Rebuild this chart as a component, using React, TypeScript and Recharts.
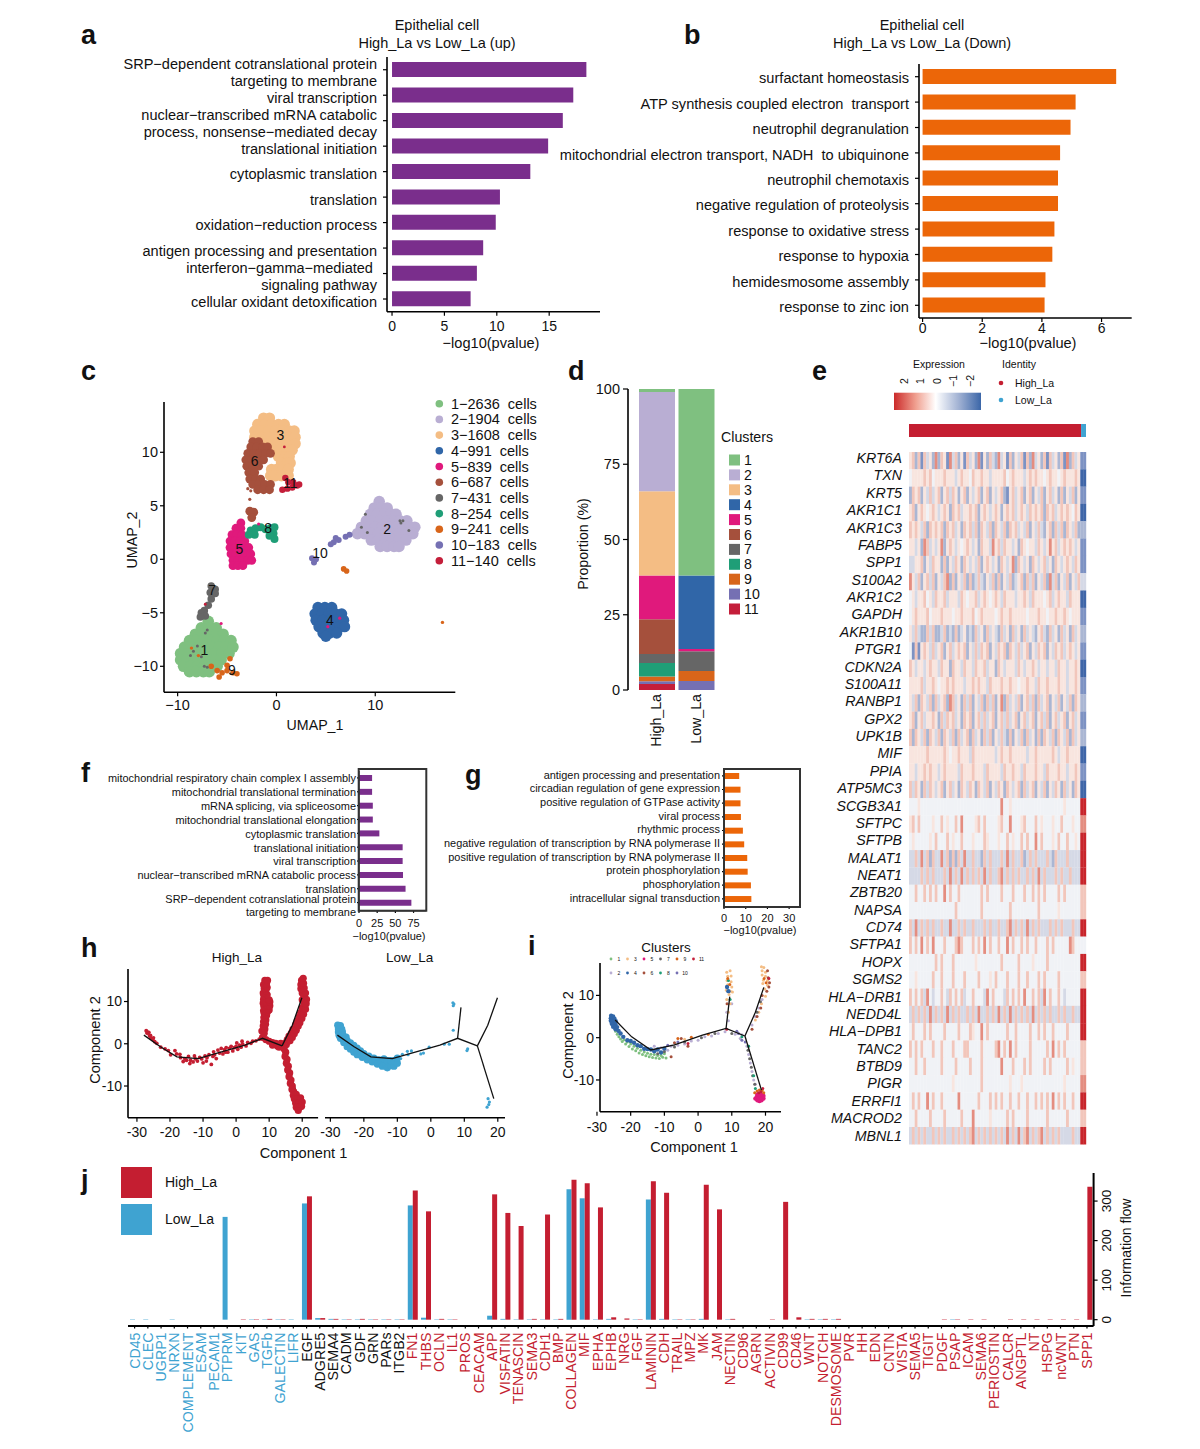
import React from "react";
import { BarChart, Bar, XAxis, YAxis, ScatterChart, Scatter } from "recharts";

const FONT = '"Liberation Sans", Arial, sans-serif';
const PURPLE = "#7a2e8c";
const ORANGE = "#ec6608";
const RED = "#c41e31";
const BLUE = "#3fa3d1";

// ---------- panel a / b ----------
const upTerms = ["SRP−dependent cotranslational protein\ntargeting to membrane", "viral transcription", "nuclear−transcribed mRNA catabolic\nprocess, nonsense−mediated decay", "translational initiation", "cytoplasmic translation", "translation", "oxidation−reduction process", "antigen processing and presentation", "interferon−gamma−mediated \nsignaling pathway", "cellular oxidant detoxification"];
const upValues = [18.55, 17.3, 16.3, 14.9, 13.2, 10.3, 9.9, 8.7, 8.1, 7.5];
const downTerms = ["surfactant homeostasis", "ATP synthesis coupled electron  transport", "neutrophil degranulation", "mitochondrial electron transport, NADH  to ubiquinone", "neutrophil chemotaxis", "negative regulation of proteolysis", "response to oxidative stress", "response to hypoxia", "hemidesmosome assembly", "response to zinc ion"];
const downValues = [6.49, 5.13, 4.96, 4.61, 4.54, 4.54, 4.42, 4.35, 4.12, 4.09];

// ---------- panel f / g ----------
const fTerms = ["mitochondrial respiratory chain complex I assembly", "mitochondrial translational termination", "mRNA splicing, via spliceosome", "mitochondrial translational elongation", "cytoplasmic translation", "translational initiation", "viral transcription", "nuclear−transcribed mRNA catabolic process", "translation", "SRP−dependent cotranslational protein\ntargeting to membrane"];
const fValues = [18, 18, 19, 19, 28, 60, 60, 60.5, 64, 72];
const gTerms = ["antigen processing and presentation", "circadian regulation of gene expression", "positive regulation of GTPase activity", "viral process", "rhythmic process", "negative regulation of transcription by RNA polymerase II", "positive regulation of transcription by RNA polymerase II", "protein phosphorylation", "phosphorylation", "intracellular signal transduction"];
const gValues = [7, 7.6, 7.6, 7.8, 8.7, 9.3, 10.7, 10.9, 12.4, 12.6];

// ---------- panel c ----------
const clusterIds = ["1", "2", "3", "4", "5", "6", "7", "8", "9", "10", "11"];
const clusterCounts = ["1−2636  cells", "2−1904  cells", "3−1608  cells", "4−991  cells", "5−839  cells", "6−687  cells", "7−431  cells", "8−254  cells", "9−241  cells", "10−183  cells", "11−140  cells"];
const clusterColors = ["#7fc080", "#b9aed3", "#f4bd84", "#3066a8", "#e0197c", "#a5503c", "#666666", "#1f9e77", "#d8651a", "#7570b3", "#c41e3a"];

const umap1 = [[-6.9,-5.8],[-7.6,-6.4],[-6.8,-6.4],[-6.1,-6.4],[-8.2,-7],[-7.5,-7],[-6.8,-7],[-6.1,-7],[-5.4,-7],[-8.8,-7.6],[-8.1,-7.6],[-7.4,-7.6],[-6.7,-7.6],[-6,-7.6],[-5.3,-7.6],[-4.6,-7.6],[-9.3,-8.2],[-8.6,-8.2],[-7.9,-8.2],[-7.2,-8.2],[-6.5,-8.2],[-5.8,-8.2],[-5.1,-8.2],[-4.4,-8.2],[-9.7,-8.8],[-9,-8.8],[-8.3,-8.8],[-7.6,-8.8],[-6.9,-8.8],[-6.2,-8.8],[-5.5,-8.8],[-4.8,-8.8],[-9.7,-9.4],[-9,-9.4],[-8.3,-9.4],[-7.6,-9.4],[-6.9,-9.4],[-6.2,-9.4],[-5.6,-9.4],[-9.4,-10],[-8.7,-10],[-8,-10],[-7.3,-10],[-6.6,-10],[-6,-10],[-8.8,-10.5],[-8.1,-10.5],[-7.4,-10.5],[-6.8,-10.5]];
const umap2 = [[10.4,5.4],[9.9,4.8],[10.6,4.8],[11.2,4.8],[9.5,4.2],[10.2,4.2],[10.9,4.2],[11.6,4.2],[12.1,4.2],[9.1,3.6],[9.8,3.6],[10.5,3.6],[11.2,3.6],[11.9,3.6],[12.5,3.6],[13.2,3.6],[8.6,3],[9.3,3],[10,3],[10.7,3],[11.4,3],[12.1,3],[12.8,3],[13.5,3],[14,3],[8.2,2.4],[8.9,2.4],[9.6,2.4],[10.3,2.4],[11,2.4],[11.7,2.4],[12.4,2.4],[13.1,2.4],[13.8,2.4],[9.6,1.8],[10.3,1.8],[11,1.8],[11.7,1.8],[12.4,1.8],[13.1,1.8],[10.5,1.2],[11.2,1.2],[11.9,1.2],[12.4,1.2]];
const umap3 = [[-1.3,13.2],[-0.7,13.2],[-1.9,12.6],[-1.2,12.6],[-0.5,12.6],[0.2,12.6],[0.8,12.6],[-2.2,12],[-1.5,12],[-0.8,12],[-0.1,12],[0.6,12],[1.3,12],[1.8,12],[-2.2,11.4],[-1.5,11.4],[-0.8,11.4],[-0.1,11.4],[0.6,11.4],[1.3,11.4],[1.9,11.4],[-0.9,10.8],[-0.2,10.8],[0.5,10.8],[1.2,10.8],[1.9,10.8],[-0.3,10.2],[0.4,10.2],[1.1,10.2],[1.6,10.2],[0.2,9.6],[0.9,9.6],[1.3,9.6],[0.5,9],[1.1,9],[1.4,9],[-0.5,8.4],[0,8.4],[0.6,8.4],[1.2,8.4],[-0.6,7.8],[-0.1,7.8],[0.5,7.8],[1.2,7.8]];
const umap4 = [[4.2,-4.5],[4.9,-4.5],[5.6,-4.5],[3.9,-5.1],[4.6,-5.1],[5.3,-5.1],[6,-5.1],[6.6,-5.1],[4,-5.7],[4.7,-5.7],[5.4,-5.7],[6.1,-5.7],[6.8,-5.7],[4.3,-6.3],[5,-6.3],[5.7,-6.3],[6.4,-6.3],[6.9,-6.3],[4.7,-6.9],[5.4,-6.9],[6.1,-6.9],[5,-7.2]];
const umap5 = [[-3.6,3.4],[-4.1,2.9],[-3.6,2.9],[-4.5,2.3],[-4,2.3],[-3.5,2.3],[-4.7,1.7],[-4.2,1.7],[-3.7,1.7],[-3.2,1.7],[-4.7,1.1],[-4.2,1.1],[-3.7,1.1],[-3.2,1.1],[-2.8,1.1],[-4.6,0.5],[-4.1,0.5],[-3.6,0.5],[-3.1,0.5],[-2.6,0.5],[-4.4,-0.1],[-3.9,-0.1],[-3.4,-0.1],[-2.9,-0.1],[-2.5,-0.1],[-4.4,-0.6],[-3.9,-0.6],[-3.4,-0.6]];
const umap6 = [[-2.4,11],[-1.8,11],[-2.6,10.5],[-2,10.5],[-1.4,10.5],[-0.9,10.5],[-2.9,9.9],[-2.3,9.9],[-1.7,9.9],[-1.1,9.9],[-0.6,9.9],[-3.1,9.3],[-2.5,9.3],[-1.9,9.3],[-1.3,9.3],[-3,8.7],[-2.4,8.7],[-1.8,8.7],[-2.8,8.1],[-2.2,8.1],[-2.7,7.5],[-2.1,7.5],[-1.6,7.5],[-2.4,7],[-1.8,7],[-1.2,7],[-0.6,7],[-1.9,6.5],[-1.3,6.5],[-0.7,6.5],[-2.7,4.5],[-2.3,4.4],[-2.5,3.9]];
const umap7 = [[-6.6,-2.5],[-6.2,-2.8],[-6.7,-3.1],[-6.2,-3.2],[-6.6,-3.7],[-6.9,-4.3],[-7.3,-4.8],[-7.6,-5],[-7.2,-5.3],[-7.7,-5.4]];
const umap8 = [[-2.6,2.7],[-2.1,2.9],[-1.6,3],[-1.1,2.8],[-0.6,2.9],[-0.2,3],[-0.3,2.4],[-0.2,1.9],[-0.7,2.2],[-2.2,2.3],[-2.8,2.3]];
const umap9 = [[-5.8,-11],[-5.5,-10.6],[-6,-10.4],[-5,-10.4],[-5,-9.9],[-4.7,-9.3],[-4,-10.7],[-4.4,-10.6],[-6.6,-10],[6.8,-0.9],[7.1,-1.1]];
const umap10 = [[3.6,0.1],[4,0],[3.8,-0.3],[6,2],[5.8,1.6],[6.3,1.8],[7,2.1],[7.4,2.3],[5.5,1.4]];
const umap11 = [[0.6,6.5],[1.1,6.6],[1.6,6.7],[2.1,6.9],[2.3,7],[1.2,7.2],[1.7,7.2],[0.9,7.6]];
const umapClusters = [umap1, umap2, umap3, umap4, umap5, umap6, umap7, umap8, umap9, umap10, umap11];
const umapSizes = [5.8, 5.8, 5.6, 5.6, 4.4, 4.4, 3.8, 4, 2.8, 3, 3.2];

const strayGrey = [[-8,-8.1],[-8.4,-8.6],[-8.7,-9],[-7.6,-9.1],[-7.2,-6.9],[-7,-6.6],[-7.3,-10],[-7,-10.1],[12.5,3.6],[12.8,3.6],[12.6,3.4],[9,4.2],[8.6,3],[9.2,2.5],[13.4,2.7]];
const strayOrange = [[16.8,-5.9],[-8.6,-8.3],[-7.9,-9]];
const strayPink = [[5.2,-6.3],[6.4,-5.5],[-5.6,-6],[-1.8,3.3]];
const strayRed = [[0.8,10.5],[-7.2,-4.2]];
const strayBrown = [[-2.7,5.6],[-2.9,6.6],[-2.6,6.4]];
const umapLabels = [[-7.3,-8.5],[11.2,2.8],[0.4,11.6],[5.4,-5.65],[-3.75,0.94],[-2.2,9.2],[-6.5,-2.9],[-0.85,2.96],[-4.5,-10.3],[4.4,0.56],[1.4,7.1]];

// ---------- panel d ----------
const stackHigh = [1, 33, 28, 0, 14.5, 11.5, 3, 4.5, 1.6, 0.9, 2];
const stackLow = [62, 0, 0, 24.4, 0.7, 0, 6.6, 0, 3.3, 3, 0];
const stackNames = ["High_La", "Low_La"];

// ---------- panel e ----------
const genes = ["KRT6A","TXN","KRT5","AKR1C1","AKR1C3","FABP5","SPP1","S100A2","AKR1C2","GAPDH","AKR1B10","PTGR1","CDKN2A","S100A11","RANBP1","GPX2","UPK1B","MIF","PPIA","ATP5MC3","SCGB3A1","SFTPC","SFTPB","MALAT1","NEAT1","ZBTB20","NAPSA","CD74","SFTPA1","HOPX","SGMS2","HLA−DRB1","NEDD4L","HLA−DPB1","TANC2","BTBD9","PIGR","ERRFI1","MACROD2","MBNL1"];
const exprHigh = [
"5626163527 2651736251 6352715263 2735162536 1627352616 3526172635",
"4555565645 5565553565 5465565535 5556456555 3565655456 5545655565",
"2656253635 6256365256 2535625625 3562156356 2562536256 3526253625",
"5625654565 3565265635 5656256535 6525656356 5365656265 6356565465",
"6565362656 5626563526 5636265362 6536265635 3625363256 2636265362",
"5535276353 5725653545 6535265537 5636553526 5455365357 5635656535",
"3355625365 5262536526 5353625653 5265357265 3526535635 2653565365",
"7536256362 5367262536 2623632536 2625362356 2636253627 3625362536",
"4535564536 5563555365 4556356545 6536555355 6536555456 3565536555",
"4565556455 5655545565 5564565555 4565565555 5455565545 5655654555",
"5363226362 2362326235 2326352635 3263526352 6353256326 3526352635",
"4161565363 5625635656 2536365625 3656265363 5625365625 3656356535",
"6535535655 3655265536 5536556355 2653555365 3556535535 5365535565",
"5555635565 4556565553 5565655365 5565565545 5655365565 5565535565",
"5362653626 3562763526 3625362636 2572635362 5636263562 5362536265",
"5625635565 2636563526 5625636356 2563635625 6356256362 5635625635",
"6265362653 6265362635 6263526362 5363262536 2635262653 6265362635",
"5555556555 5565455655 5365555555 3565565555 5355655555 6535565555",
"5535565655 3565555365 5565553655 5536556553 6555655365 5565535565",
"6365263653 5625635265 3652653625 3652653562 6356253625 3652635265",
"4445444444 4444444444 4444444444 4474454444 4444444444 4444544444",
"5646444454 4645446474 4445646444 4564474445 6444645444 5446444544",
"4544444546 4446454464 4454446544 4544645446 4644746444 5464464454",
"3363736263 3736262637 3363326363 3363736336 2363633363 2633363333",
"3333636363 3363736373 6363637363 3673636363 3636373633 3636336333",
"4464464646 4474644644 4444464644 4464446444 6446464644 4464644444",
"4444444444 4444446444 4444464444 4444464444 4444464444 4454444444",
"6373636363 3633733636 3363336363 3633673636 3736363336 3636333633",
"6464746474 4464446764 4464647464 4644746446 4644644464 6444447644",
"4444444446 4644464444 4445444444 4464444464 4445444464 4444444444",
"4454444464 4644464446 4444644454 6444644464 4644464644 4464444444",
"6464637434 4643646463 4464443746 4443646464 7446463746 4464344444",
"3636363736 3637363633 6363733636 3736373636 3637363636 3363633633",
"4644464644 4464444644 4654474644 4444644644 4464464644 6444464444",
"6464644464 4644464446 6444464444 6746474644 4464444464 7464644444",
"4464464444 4644446444 4644464444 4474446444 6464444646 4444464544",
"4444444444 4444454444 4444464444 4444454445 4444444444 4444544444",
"4646447464 4644444744 4444644464 6464464464 4644646464 7464644644",
"4464444644 4464444464 4474444454 4444646444 4644444464 4444464444",
"3636363363 6363363636 3673636363 6363736373 6736367363 6363333633",
];
const exprLow = [1,0,1,0,2,1,1,3,0,1,2,1,0,1,2,1,2,0,1,0,8,7,8,8,8,6,6,8,4,8,6,8,8,8,6,6,7,8,6,8];
const exprColors = ["#3f66a8","#7d92c3","#aab6d3","#d5d9e6","#f0f2f6","#f8e5df","#f2c6bb","#e48d80","#c8252b"];
const identityShare = [{ name: "Identity", High_La: 97.2, Low_La: 2.8 }];

// ---------- panels h / i ----------
const trunk = [[-27.9,2.05],[-22.9,-0.7],[-17.9,-3.1],[-11.5,-3.5],[-4.4,-1.9],[2.7,-0.3],[8,1.3],[13.9,-0.5]];
const branchUp = [[8,1.3],[9,8.6]];
const branchRight = [[13.9,-0.5],[17,4.4],[19.9,10.9]];
const branchDown = [[13.9,-0.5],[18.8,-13]];
const highArc = [[-27.2,3.1],[-26.9,2.5],[-26.4,2.7],[-26.2,1.9],[-25.8,1.4],[-25.2,1],[-24.6,0.5],[-24,0.1],[-22.8,-0.8],[-21.5,-1.2],[-18.5,-1.6],[-18,-2.4],[-16.8,-3.3],[-15.5,-3.5],[-15,-3.9],[-14.4,-3],[-13.8,-3.9],[-13,-4.3],[-12.3,-3.6],[-11.7,-4.1],[-11,-3.2],[-10.4,-3.6],[-10,-4.5],[-9.4,-2.9],[-8.8,-3.3],[-8.2,-2.6],[-7.5,-4.9],[-7,-3],[-6.5,-2.6],[-6,-3.5],[-5.5,-1.5],[-5,-2.2],[-4.5,-1.1],[-4,-2.4],[-3.5,-1.4],[-3,-0.9],[-2.5,-2],[-2,-1.1],[-1.5,-0.6],[-1,-1.7],[-0.5,-0.9],[0,-0.6],[0.5,-1.3],[1,-0.3],[1.5,-0.8],[2,-0.1],[3,-0.5],[3.5,0.3],[4.5,0.1],[5,0.6],[6,0.7],[7,1.1],[-27,2.9],[-25.9,2],[-25,1.4],[-20.5,-1.6],[-19.8,-2.6],[-17,-2.5],[-16,-4.2],[-14,-4.7],[-12.6,-2.9],[-9,-4.1],[-6.8,-1.9],[-3.2,-2],[0.2,0.2],[1.8,0.6]];
const highBranches = [[8,1.5],[8.5,2.5],[7.8,3],[8.7,3.5],[8.2,4.2],[8.9,4.6],[8.3,5.2],[9,5.6],[8.4,6.2],[9.2,6.7],[8.5,7.2],[9.5,7.6],[8.3,7.8],[9,8.2],[10,8],[8.4,8.8],[9.4,9],[10.2,9],[8.2,9.6],[9.2,9.8],[10.2,9.9],[8.3,10.5],[9.3,10.7],[10,10.4],[8.4,11.4],[9.4,11.6],[8.2,12],[9,12.5],[8.5,13],[9.4,13.3],[8.3,14],[9.2,14.2],[8.7,15],[9.5,15],
[9,1],[10,0.6],[11,0.3],[12,0.1],[11,-0.3],[12.5,-0.5],[13,-0.8],[13.5,0.1],[14,-0.4],
[15,0.2],[15.5,1],[15.2,-0.2],[16,1.8],[16.3,0.7],[16.7,2.5],[17,1.5],[17.2,3.4],[17.6,2.4],[18,4.5],[18.2,3.2],[18.5,5.4],[18.8,4.2],[19,6.4],[19.3,5],[19.5,7.4],[19.9,6],[20,8.5],[20.4,7],[20.5,9.5],[21,8.2],[20,10.4],[21.2,9.5],[20.5,11],[21.3,10.5],[20,12],[21,12],[19.6,13],[20.6,13.2],[19.6,14],[20.4,14.3],[19.8,15],[20.3,15.5],
[14.5,-1.2],[15,-2],[14.8,-3],[15.4,-3.7],[15.2,-4.6],[15.8,-5.3],[15.6,-6.2],[16.2,-6.9],[16,-7.8],[16.6,-8.6],[16.4,-9.4],[17,-10],[16.9,-10.8],[17.4,-11.3],[17.3,-12.2],[18.2,-12],[17.6,-13],[18.6,-13],[19.5,-12.8],[18,-14],[19,-14],[20,-13.8],[18.2,-15],[19.2,-15],[19.8,-14.8],[18.8,-15.8]];
const lowBand = [[-27.8,4.4],[-27,4.3],[-27.6,3.5],[-26.6,3.5],[-27.6,2.8],[-26.4,2.8],[-27.4,2],[-26.2,2],[-25.3,1.6],[-27,1.3],[-26,1.1],[-25,0.8],[-26,0.3],[-25,0],[-24,0.2],[-25,-0.7],[-24,-0.5],[-23,-0.4],[-24,-1.3],[-23,-1.2],[-22,-1],[-23,-2],[-22,-1.8],[-21,-1.7],[-22,-2.6],[-21,-2.5],[-20,-2.3],[-20.5,-3.2],[-19.5,-3],[-18.5,-2.9],[-19,-3.8],[-18,-3.6],[-17,-3.4],[-17.5,-4.3],[-16.5,-4],[-15.5,-3.8],[-16,-4.8],[-15,-4.6],[-14,-3.6],[-14.5,-5.3],[-13.5,-5],[-13,-4],[-13,-5.7],[-12,-5.2],[-12,-4],[-11,-5.3],[-11,-4],[-10,-4.6],[-10,-3.4]];
const lowStray = [[-9,-3.5],[-8.5,-2.5],[-7,-1.8],[-6.8,-2.6],[-5.8,-1.7],[-3,-2.4],[-2.2,-2.2],[-0.5,-0.8],[4,-0.1],[5.5,-0.1],[6.6,9.7],[6.9,9.4],[6.7,9],[6.7,3.2],[11,-1.2],[10.8,-1.6],[17.1,-13],[17.5,-13.8],[17.3,-14.4],[16.8,-15]];

const iTrunk = [[-24.6,4.2],[-19.7,0.2],[-14,-2.9],[-7,-1.7],[1.3,0.6],[8.3,2.2],[13.9,0.4]];
const iUp = [[8.3,2.2],[9.4,9.7]];
const iRight = [[13.9,0.4],[17,6],[19.5,11.9]];
const iDown = [[13.9,0.4],[18.8,-12.4]];
const iCells1 = [[-24.5,1.5],[-24,0.8],[-23.5,0.2],[-23,-0.3],[-22.5,-0.9],[-22,-0.5],[-21.5,-1.5],[-21,-1],[-20.5,-2.1],[-20,-1.5],[-19.5,-2.7],[-19,-2],[-18.5,-3.1],[-18,-2.5],[-17.5,-3.6],[-17,-3],[-16.5,-4],[-16,-3.4],[-15.5,-4.3],[-15,-3.7],[-14.5,-4.5],[-14,-3.9],[-13.5,-4.7],[-13,-4],[-12.5,-4.8],[-12,-4.2],[-11.5,-4.9],[-11,-4.2],[-10.5,-4.6],[-10,-3.8],[-9.5,-4.8]];
const iCells2 = [[-13,-2],[-11,-2.4],[-9,-3],[-8,-2],[-6,-1.8],[-4,-1.5],[-2,-0.8],[0,-0.6],[2,0.2],[4,0.4],[6,1],[8,1.4],[11,0.8],[12.5,-0.2],[13,0.7],[14.5,-2],[15,-4],[15.5,-6],[16,-8],[16.5,-10],[17,-11],[16,3],[17,5],[18,7],[19,9],[9,4],[8.5,6],[10,8]];
const iCells3 = [[8.5,15.5],[9.5,15.8],[8.8,14.5],[9.8,14.6],[8.6,13.5],[9.8,13.2],[8.8,12.5],[10,12],[8.4,11.2],[9.6,11],[10.2,10.8],[9.2,10.2],[8.5,9],[9.5,8],[9,6],[18.8,16.8],[19.5,16.6],[19,15.8],[20,15.5],[19,14.8],[20,14.5],[19.4,13.6],[20.6,13.5],[19.2,12.8],[20.6,12.4],[19.8,11.5],[20,9.8],[18.8,8],[18,6],[17,4.2],[-4,-0.4]];
const iCells4 = [[-25.8,5.2],[-25.2,5],[-25.9,4.6],[-25.4,4.4],[-24.8,4.5],[-25.9,4],[-25.4,3.8],[-24.8,3.8],[-24.4,3.9],[-25.6,3.3],[-25,3.2],[-24.5,3.2],[-25.2,2.6],[-24.6,2.6],[-24,2.5],[-24.5,2],[-23.6,1.6],[-23,1],[-22.2,0.2],[-21,-0.6],[-20,-0.8],[-19,-1.2],[-18,-1.8],[-17,-2],[-16,-2.6],[-15,-2.7],[-14,-2.8],[-13,-3.2],[-12,-2.8],[-11,-3.5],[-10,-2.6],[8.6,12],[9,11]];
const iCells5 = [[17,-14.4],[17.6,-14.8],[18.2,-15],[18.8,-14.8],[19.4,-14.4],[17.4,-14],[18,-14.2],[18.8,-14],[19.4,-13.8],[17.6,-13.4],[18.4,-13.6],[19,-13.4]];
const iCells6 = [[20.6,15.8],[20.8,14.2],[21.2,13],[21,12],[20.4,11],[19,10],[18.6,7],[8.6,8],[17.5,5],[16,2],[-7,-1.2],[-5,-0.2],[-8,-4.5],[-3,-2]];
const iCells7 = [[-12,-3.8],[-10,-3.3],[-7,-2.2],[-4,-1],[1,0],[5,1],[10,1],[14.8,-3],[15.3,-5],[15.8,-7],[16.2,-9],[16.8,-11],[17.5,6],[18.5,8.5]];
const iCells8 = [[9,13.5],[9.5,9],[16.5,-9],[17,-12],[15,-2],[13,0.2]];
const iCells9 = [[17.5,-12.6],[18.2,-12.4],[19,-12.5],[19.5,-13],[16.8,-13],[8.8,14],[9.4,12.6],[19.6,14],[20.2,13],[-6,-0.2],[-2,0.1],[3,0.8]];
const iCells10 = [[14,-1],[11.5,1.5],[12,1],[13,-0.6],[-9,-1.8],[-6,-1]];
const iCells11 = [[18,-13],[18.6,-12.8],[19.2,-12],[8.5,2],[-3,-1.4],[21,14]];
const iClusters = [iCells1, iCells2, iCells3, iCells4, iCells5, iCells6, iCells7, iCells8, iCells9, iCells10, iCells11];

// ---------- panel j ----------
const catLow = ["CD45","CLEC","UGRP1","NRXN","COMPLEMENT","ESAM","PECAM1","PTPRM","KIT","GAS","TGFb","GALECTIN","LIFR"];
const catShared = ["EGF","ADGRE5","SEMA4","CADM","GDF","GRN","PARs","ITGB2"];
const catHigh = ["FN1","THBS","OCLN","IL1","PROS","CEACAM","APP","VISFATIN","TENASCIN","SEMA3","CDH1","BMP","COLLAGEN","MIF","EPHA","EPHB","NRG","FGF","LAMININ","CDH","TRAIL","MPZ","MK","JAM","NECTIN","CD96","AGRN","ACTIVIN","CD99","CD46","WNT","NOTCH","DESMOSOME","PVR","HH","EDN","CNTN","VISTA","SEMA5","TIGIT","PDGF","PSAP","ICAM","SEMA6","PERIOSTIN","CALCR","ANGPTL","NT","HSPG","ncWNT","PTN","SPP1"];
const flowLow = [1,1,0,1,0,0,0,260,0,1,1,1,1, 294,4,2,1,1,1,1,1, 289,5,1,1,0,0,10,2,1,1,1,1,330,307,1,2,0,1,304,2,1,1,2,0,1,0,0,0,0,0,1,1,1,0,0,0,0,0,0,0,0,1,0,0,0,0,0,0,0,0,0,0];
const flowHigh = [0,0,0,0,0,0,0,0,1,1,2,1,0, 312,4,2,1,2,1,1,1, 327,274,2,1,0,0,317,270,237,2,266,2,354,345,284,6,3,1,350,321,1,1,341,279,2,0,0,1,298,6,2,2,2,0,0,0,0,0,0,0,1,1,1,1,0,1,1,1,1,1,1,336];

// ---------- tables built from the lists ----------
const categories = [...catLow, ...catShared, ...catHigh];
const flowTable = categories.map((name, i) => ({ name, low: flowLow[i], high: flowHigh[i] }));
const termTable = (terms: string[], vals: number[]) => terms.map((term, i) => ({ term, value: vals[i] }));
const pts = (a: number[][]) => a.map(([x, y]) => ({ x, y }));
const stackTable = stackNames.map((name, s) => {
  const row: any = { name };
  clusterIds.forEach((id, k) => { row["c" + id] = (s === 0 ? stackHigh : stackLow)[k]; });
  return row;
});
const HEAT_HIGH_COLS = 60;
const HEAT_COLS = HEAT_HIGH_COLS + 2;
const heatCells = exprHigh.flatMap((line, row) => {
  const digits = line.replace(/ /g, "");
  const cells = Array.from(digits).map((d, col) => ({ col, row, level: Number(d) }));
  return [...cells, { col: HEAT_HIGH_COLS, row, level: exprLow[row] }, { col: HEAT_HIGH_COLS + 1, row, level: exprLow[row] }];
});

// ---------- helpers ----------
// Axes take 1px each (a zero-sized axis is not drawn), so the margin gives that pixel back.
function place(plot: number[], pad: number[], axes = { left: 1, bottom: 1, right: 0 }) {
  const [l, t, r, b] = plot;
  const [pl, pt, pr, pb] = pad;
  return {
    style: { position: "absolute" as const, left: l - pl, top: t - pt },
    width: r - l + pl + pr,
    height: b - t + pt + pb,
    margin: { left: pl - axes.left, top: pt, right: pr - axes.right, bottom: pb - axes.bottom },
  };
}
const dot = (r: number, c: string) => (p: any) => <circle cx={p.cx} cy={p.cy} r={r} fill={c} />;
const noDot = () => <g />;
const axisLine = { stroke: "#000", strokeWidth: 1.6 };
const tickLine = { stroke: "#000", strokeWidth: 1.2 };

const TermTick = (size: number, up: number, down: number, single: number) => (p: any) => {
  const lines = String(p.payload.value).split("\n");
  if (lines.length === 1)
    return <text x={p.x} y={p.y + single} dy="0.35em" textAnchor="end" fontSize={size} fill="#111" style={{ whiteSpace: "pre" }}>{lines[0]}</text>;
  return (
    <g>
      <text x={p.x} y={p.y + up} dy="0.35em" textAnchor="end" fontSize={size} fill="#111" style={{ whiteSpace: "pre" }}>{lines[0]}</text>
      <text x={p.x} y={p.y + down} dy="0.35em" textAnchor="end" fontSize={size} fill="#111" style={{ whiteSpace: "pre" }}>{lines[1]}</text>
    </g>
  );
};

function TermBars(props: any) {
  const { plot, pad, terms, values, color, domain, ticks, barSize, font, tickFont, up, down, single = 0, frame, tickSize = 4, tickMargin = 5, xTickMargin = 3, yPad = 0 } = props;
  const axis = frame ? { stroke: "#333", strokeWidth: 1.4 } : axisLine;
  return (
    <BarChart layout="vertical" data={termTable(terms, values)} {...place(plot, pad)}>
      <XAxis type="number" dataKey="value" domain={domain} ticks={ticks} interval={0} height={1} axisLine={axis} tickLine={tickLine} tickSize={tickSize} tickMargin={xTickMargin} tick={{ fontSize: tickFont, fill: "#111" }} />
      <YAxis type="category" dataKey="term" width={1} interval={0} padding={{ top: 0, bottom: yPad }} axisLine={axis} tickLine={tickLine} tickSize={tickSize} tickMargin={tickMargin} tick={TermTick(font, up, down, single)} />
      <Bar dataKey="value" fill={color} barSize={barSize} isAnimationActive={false} />
    </BarChart>
  );
}

function Trajectory({ plot, pad, dx, dy, xticks, yticks, hideY, layers, under = [], lines, xTickMargin = 5 }: any) {
  const axes = { left: hideY ? 0 : 1, bottom: 1, right: 0 };
  const lineStyle = { stroke: "#111", strokeWidth: 1.3 };
  return (
    <ScatterChart {...place(plot, pad, axes)}>
      <XAxis type="number" dataKey="x" domain={dx} ticks={xticks} interval={0} height={1} axisLine={axisLine} tickLine={tickLine} tickSize={4} tickMargin={xTickMargin} tick={{ fontSize: 14, fill: "#111" }} />
      <YAxis type="number" dataKey="y" domain={dy} ticks={yticks} interval={0} width={1} hide={hideY} axisLine={axisLine} tickLine={tickLine} tickSize={4} tickMargin={2} tick={{ fontSize: 14, fill: "#111" }} />
      {under.map((l: number[][], i: number) => (
        <Scatter key={"u" + i} data={pts(l)} shape={noDot} line={lineStyle} isAnimationActive={false} />
      ))}
      {layers.map((l: any, i: number) => (
        <Scatter key={"l" + i} data={pts(l.data)} shape={dot(l.r, l.color)} isAnimationActive={false} />
      ))}
      {lines.map((l: number[][], i: number) => (
        <Scatter key={"t" + i} data={pts(l)} shape={noDot} line={lineStyle} isAnimationActive={false} />
      ))}
    </ScatterChart>
  );
}

const T = ({ x, y, s = 14, a = "middle", r, c = "#111", b, i, children }: any) => (
  <text x={x} y={y} fontSize={s} textAnchor={a} dominantBaseline="central" fill={c} fontWeight={b ? "bold" : undefined} fontStyle={i ? "italic" : undefined} transform={r ? `rotate(${r} ${x} ${y})` : undefined} style={{ whiteSpace: "pre" }}>
    {children}
  </text>
);

const panelLetters = [["a",81,35],["b",684,35],["c",81,371],["d",568,371],["e",812,371],["f",81,773],["g",465,775],["h",81,948],["i",528,946],["j",81,1180]];
const iLegendTop = [["1",0],["3",2],["5",4],["7",6],["9",8],["11",10]];
const iLegendBottom = [["2",1],["4",3],["6",5],["8",7],["10",9]];
const minusFmt = (v: number) => (v < 0 ? "−" + Math.abs(v) : String(v));

function JTick(p: any) {
  const i = p.index;
  const c = i < catLow.length ? BLUE : i < catLow.length + catShared.length ? "#111" : RED;
  return <text x={p.x} y={p.y} dy="0.36em" textAnchor="end" fontSize={14.2} fill={c} transform={`rotate(-90 ${p.x} ${p.y})`}>{p.payload.value}</text>;
}
function JYTick(p: any) {
  return <text x={p.x + 7} y={p.y} textAnchor="middle" dominantBaseline="central" fontSize={13.5} fill="#111" transform={`rotate(-90 ${p.x + 7} ${p.y})`}>{p.payload.value}</text>;
}
// The gene labels sit a little above their rows at the top of the heatmap and level with them at the bottom.
function GeneTick(p: any) {
  const row = p.payload.value;
  const lift = 2.6 * (1 - row / (genes.length - 1));
  return <text x={p.x} y={p.y - lift} dy="0.35em" textAnchor="end" fontSize={14.2} fontStyle="italic" fill="#111">{genes[row]}</text>;
}

const HEAT_PLOT = [909, 451.7, 1086, 1144];
const cellW = (HEAT_PLOT[2] - HEAT_PLOT[0]) / HEAT_COLS;
const cellH = (HEAT_PLOT[3] - HEAT_PLOT[1]) / genes.length;
const heatShape = (p: any) => (
  <rect x={p.cx - cellW / 2} y={p.cy - cellH / 2} width={cellW + 0.2} height={cellH + 0.2} fill={exprColors[p.payload.level]} />
);

export default function App() {
  return (
    <div style={{ position: "absolute", left: 0, top: 0, width: 1200, height: 1449, background: "#fff", fontFamily: FONT, overflow: "hidden" }}>
      {/* a */}
      <TermBars plot={[387, 57.25, 600, 312]} pad={[270, 10, 10, 30]} terms={upTerms} values={upValues} color={PURPLE} domain={[-0.48, 19.85]} ticks={[0, 5, 10, 15]} barSize={15} font={14.55} tickFont={14} up={-6} down={11.5} single={2.5} tickMargin={6} xTickMargin={5} />
      {/* b */}
      <TermBars plot={[919, 64, 1131.7, 318]} pad={[370, 10, 10, 30]} terms={downTerms} values={downValues} color={ORANGE} domain={[-0.12, 7.01]} ticks={[0, 2, 4, 6]} barSize={15} font={14.6} tickFont={14} up={-6} down={11} single={1.5} tickMargin={6} xTickMargin={1} />

      {/* c */}
      <ScatterChart {...place([163.7, 401.7, 455, 692], [40, 10, 10, 30])}>
        <XAxis type="number" dataKey="x" domain={[-11.38, 18.1]} ticks={[-10, 0, 10]} tickFormatter={minusFmt} interval={0} height={1} axisLine={axisLine} tickLine={tickLine} tickSize={4} tickMargin={3} tick={{ fontSize: 14.5, fill: "#111" }} />
        <YAxis type="number" dataKey="y" domain={[-12.43, 14.7]} ticks={[-10, -5, 0, 5, 10]} tickFormatter={minusFmt} interval={0} width={1} axisLine={axisLine} tickLine={tickLine} tickSize={4} tickMargin={2} tick={{ fontSize: 14.5, fill: "#111" }} />
        {umapClusters.map((c, i) => (
          <Scatter key={clusterIds[i]} data={pts(c)} shape={dot(umapSizes[i], clusterColors[i])} isAnimationActive={false} />
        ))}
        <Scatter data={pts(strayGrey)} shape={dot(1.5, clusterColors[6])} isAnimationActive={false} />
        <Scatter data={pts(strayOrange)} shape={dot(1.7, clusterColors[8])} isAnimationActive={false} />
        <Scatter data={pts(strayPink)} shape={dot(1.6, clusterColors[4])} isAnimationActive={false} />
        <Scatter data={pts(strayRed)} shape={dot(1.4, clusterColors[10])} isAnimationActive={false} />
        <Scatter data={pts(strayBrown)} shape={dot(1.6, clusterColors[5])} isAnimationActive={false} />
        <Scatter
          data={umapLabels.map(([x, y], i) => ({ x, y, id: clusterIds[i] }))}
          shape={(p: any) => <text x={p.cx} y={p.cy} textAnchor="middle" dominantBaseline="central" fontSize={14} fill="#111">{p.payload.id}</text>}
          isAnimationActive={false}
        />
      </ScatterChart>

      {/* d */}
      <BarChart data={stackTable} barSize={36} barCategoryGap={0} {...place([628, 389, 719, 690], [40, 12, 5, 10])}>
        <XAxis dataKey="name" height={1} axisLine={false} tickLine={false} tick={false} padding={{ left: 9, right: 3 }} />
        <YAxis type="number" domain={[0, 100]} ticks={[0, 25, 50, 75, 100]} interval={0} width={1} axisLine={axisLine} tickLine={tickLine} tickSize={5} tickMargin={3} tick={{ fontSize: 14.5, fill: "#111" }} />
        {[...clusterIds].reverse().map((id) => (
          <Bar key={id} dataKey={"c" + id} stackId="s" fill={clusterColors[Number(id) - 1]} isAnimationActive={false} />
        ))}
      </BarChart>

      {/* e annotation bar */}
      <BarChart layout="vertical" data={identityShare} barCategoryGap={0} {...place([909, 424, 1086, 437], [0, 0, 0, 0], { left: 0, bottom: 0, right: 0 })}>
        <XAxis type="number" domain={[0, 100]} hide />
        <YAxis type="category" dataKey="name" hide />
        <Bar dataKey="High_La" stackId="i" fill={RED} isAnimationActive={false} />
        <Bar dataKey="Low_La" stackId="i" fill={BLUE} isAnimationActive={false} />
      </BarChart>

      {/* e heatmap */}
      <ScatterChart {...place(HEAT_PLOT, [90, 4, 2, 2], { left: 1, bottom: 0, right: 0 })}>
        <XAxis type="number" dataKey="col" domain={[-0.5, HEAT_COLS - 0.5]} hide />
        <YAxis type="number" dataKey="row" domain={[-0.5, genes.length - 0.5]} reversed ticks={genes.map((_, i) => i)} interval={0} width={1} axisLine={false} tickLine={false} tickSize={0} tickMargin={7} tick={GeneTick} />
        <Scatter data={heatCells} shape={heatShape} isAnimationActive={false} />
      </ScatterChart>

      {/* f / g */}
      <TermBars plot={[358.7, 770.8, 426, 910.7]} pad={[260, 4, 6, 20]} terms={fTerms} values={fValues} color={PURPLE} domain={[0, 92.5]} ticks={[0, 25, 50, 75]} barSize={6} font={10.95} tickFont={11} up={-3} down={10} single={0.5} frame tickSize={2} tickMargin={1} xTickMargin={6} yPad={1.4} />
      <TermBars plot={[724, 769, 800, 907]} pad={[290, 4, 6, 20]} terms={gTerms} values={gValues} color={ORANGE} domain={[0, 35]} ticks={[0, 10, 20, 30]} barSize={6} font={10.95} tickFont={11} up={-3.5} down={9.5} single={-1} frame tickSize={2} tickMargin={2} xTickMargin={5} yPad={1.3} />

      {/* h */}
      <Trajectory plot={[127.5, 969, 317.6, 1117.7]} pad={[30, 5, 8, 24]} dx={[-32.7, 24.8]} dy={[-17.5, 17.7]} xticks={[-30, -20, -10, 0, 10, 20]} yticks={[-10, 0, 10]} under={[branchUp, branchDown]} layers={[{ data: highArc, r: 1.9, color: RED }, { data: highBranches, r: 3.6, color: RED }]} lines={[trunk, branchRight]} />
      <Trajectory plot={[325, 969, 505, 1117.7]} pad={[22, 5, 8, 24]} dx={[-31.6, 22.15]} dy={[-17.5, 17.7]} xticks={[-30, -20, -10, 0, 10, 20]} yticks={[]} hideY layers={[{ data: lowBand, r: 3.6, color: BLUE }, { data: lowStray, r: 1.6, color: BLUE }]} lines={[trunk, branchUp, branchRight, branchDown]} />

      {/* i */}
      <Trajectory plot={[600, 963, 781, 1111.7]} pad={[30, 5, 8, 24]} dx={[-29.1, 24.6]} dy={[-17.5, 17.66]} xticks={[-30, -20, -10, 0, 10, 20]} yticks={[-10, 0, 10]} xTickMargin={6}
        layers={iClusters.map((data, k) => ({ data, r: k === 3 || k === 4 ? 2.2 : 1.5, color: clusterColors[k] }))}
        lines={[iTrunk, iUp, iRight, iDown]} />

      {/* j */}
      <BarChart data={flowTable} barSize={5} barGap={0} {...place([128.4, 1172.7, 1094, 1325.7], [6, 4, 34, 115], { left: 0, bottom: 1, right: 1 })}>
        <XAxis dataKey="name" interval={0} height={1} axisLine={{ stroke: "#000", strokeWidth: 2 }} tickLine={tickLine} tickSize={2.5} tickMargin={4} tick={JTick} />
        <YAxis orientation="right" type="number" domain={[-16, 371]} ticks={[0, 100, 200, 300]} interval={0} width={1} axisLine={{ stroke: "#000", strokeWidth: 2 }} tickLine={tickLine} tickSize={4} tickMargin={2} tick={JYTick} />
        <Bar dataKey="low" fill={BLUE} isAnimationActive={false} />
        <Bar dataKey="high" fill={RED} isAnimationActive={false} />
      </BarChart>

      {/* text, legends and frames */}
      <svg width={1200} height={1449} style={{ position: "absolute", left: 0, top: 0, pointerEvents: "none" }}>
        <defs>
          <linearGradient id="exprGrad" x1="0" x2="1" y1="0" y2="0">
            <stop offset="0" stopColor="#cb2a2a" />
            <stop offset="0.25" stopColor="#f0a090" />
            <stop offset="0.48" stopColor="#ffffff" />
            <stop offset="0.75" stopColor="#9fb0d2" />
            <stop offset="1" stopColor="#3b66a8" />
          </linearGradient>
        </defs>
        {panelLetters.map(([l, x, y]: any) => (
          <T key={l} x={x} y={y} s={27} a="start" b c="#111">{l}</T>
        ))}

        <T x={437} y={25} s={14.5}>Epithelial cell</T>
        <T x={437} y={43} s={14.5}>High_La vs Low_La (up)</T>
        <T x={922} y={25} s={14.5}>Epithelial cell</T>
        <T x={922} y={43} s={14.5}>High_La vs Low_La (Down)</T>
        <T x={491} y={343} s={14.6}>−log10(pvalue)</T>
        <T x={1028} y={343} s={14.6}>−log10(pvalue)</T>

        <T x={315} y={725} s={14.2}>UMAP_1</T>
        <T x={132} y={540} s={14.2} r={-90}>UMAP_2</T>
        {clusterCounts.map((label, i) => (
          <g key={label}>
            <circle cx={439.3} cy={403.7 + i * 15.7} r={3.8} fill={clusterColors[i]} />
            <T x={451} y={403.7 + i * 15.7} s={14.5} a="start">{label}</T>
          </g>
        ))}

        <T x={583} y={544} s={14.2} r={-90}>Proportion (%)</T>
        <T x={656} y={694} s={14.2} a="end" r={-90}>High_La</T>
        <T x={695.7} y={694} s={14.2} a="end" r={-90}>Low_La</T>
        <T x={721} y={437} s={14.2} a="start">Clusters</T>
        {clusterIds.map((id, i) => (
          <g key={id}>
            <rect x={729} y={454.5 + i * 14.9} width={11} height={11} fill={clusterColors[i]} />
            <T x={744} y={460 + i * 14.9} s={14.2} a="start">{id}</T>
          </g>
        ))}

        <T x={939} y={364} s={10.5}>Expression</T>
        <T x={1019} y={364} s={10.5}>Identity</T>
        {[["2", 904], ["1", 920], ["0", 937], ["−1", 953], ["−2", 970]].map(([v, x]: any) => (
          <T key={v} x={x} y={381} s={10.5} r={-90}>{v}</T>
        ))}
        <rect x={894} y={392.7} width={87} height={17.3} fill="url(#exprGrad)" />
        <circle cx={1001} cy={383} r={2.3} fill={RED} />
        <circle cx={1001} cy={400} r={2.3} fill={BLUE} />
        <T x={1015} y={383} s={10.5} a="start">High_La</T>
        <T x={1015} y={400} s={10.5} a="start">Low_La</T>

        <rect x={358.7} y={769} width={67.6} height={141.7} fill="none" stroke="#333" strokeWidth={2} />
        <rect x={724} y={769} width={76} height={138} fill="none" stroke="#333" strokeWidth={2} />
        <T x={389} y={936} s={11}>−log10(pvalue)</T>
        <T x={760} y={930} s={11}>−log10(pvalue)</T>

        <T x={237} y={957} s={13.5}>High_La</T>
        <T x={409.6} y={957} s={13.5}>Low_La</T>
        <T x={303.5} y={1153} s={14.6}>Component 1</T>
        <T x={94.5} y={1040} s={14.6} r={-90}>Component 2</T>
        <T x={666} y={947} s={13.5}>Clusters</T>
        <T x={694} y={1147} s={14.6}>Component 1</T>
        <T x={567.6} y={1035} s={14.6} r={-90}>Component 2</T>
        {iLegendTop.map(([id, k]: any, i) => (
          <g key={id}>
            <circle cx={611 + i * 16.5} cy={959} r={1.4} fill={clusterColors[k]} />
            <T x={619 + i * 16.5} y={959} s={5} >{id}</T>
          </g>
        ))}
        {iLegendBottom.map(([id, k]: any, i) => (
          <g key={id}>
            <circle cx={611 + i * 16.5} cy={973} r={1.4} fill={clusterColors[k]} />
            <T x={619 + i * 16.5} y={973} s={5}>{id}</T>
          </g>
        ))}

        <rect x={121} y={1167} width={31} height={31} fill={RED} />
        <rect x={121} y={1204} width={31} height={31} fill={BLUE} />
        <T x={165} y={1182} s={14} a="start">High_La</T>
        <T x={165} y={1219} s={14} a="start">Low_La</T>
        <T x={1126} y={1248} s={14} r={-90}>Information flow</T>
      </svg>
    </div>
  );
}
